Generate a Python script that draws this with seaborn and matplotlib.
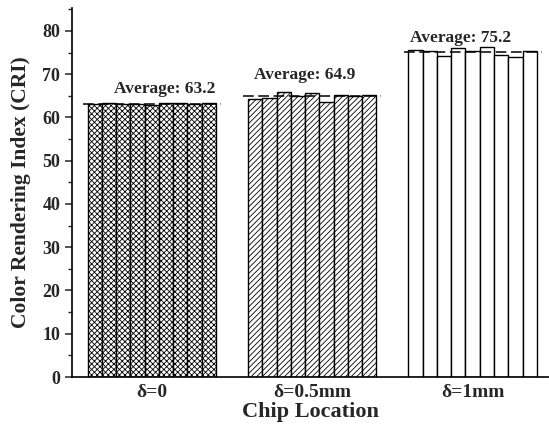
import matplotlib
matplotlib.use("Agg")
import matplotlib.pyplot as plt
import seaborn as sns
import pandas as pd
from matplotlib.ticker import MultipleLocator

# ---- data ----
locations = ["δ=0", "δ=0.5mm", "δ=1mm"]
chips = [1, 2, 3, 4, 5, 6, 7, 8, 9]
cri_d0 = [63.0, 63.3, 63.2, 63.0, 62.8, 63.4, 63.4, 63.1, 63.4]
cri_d05 = [64.2, 64.6, 65.9, 64.9, 65.6, 63.5, 65.3, 64.9, 65.2]
cri_d1 = [75.5, 75.3, 74.2, 76.1, 75.3, 76.4, 74.4, 74.0, 75.3]
averages = [63.2, 64.9, 75.2]
avg_labels = ["Average: 63.2", "Average: 64.9", "Average: 75.2"]
hatches = ["xxxxxx", "//////", ""]

rows = []
for loc, vals in zip(locations, [cri_d0, cri_d05, cri_d1]):
    for c, v in zip(chips, vals):
        rows.append({"Location": loc, "Chip": c, "CRI": v})
df = pd.DataFrame(rows)

sns.set_style("ticks")
plt.rcParams["font.family"] = ["Liberation Serif", "DejaVu Serif"]
plt.rcParams["font.weight"] = "bold"
plt.rcParams["hatch.linewidth"] = 0.6
plt.rcParams["hatch.color"] = "black"

fig = plt.figure(figsize=(5.49, 4.32), dpi=100)
ax = fig.add_axes([72 / 549, 55 / 432, 1 - 72 / 549, (377 - 8) / 432])

sns.barplot(data=df, x="Location", y="CRI", hue="Chip", order=locations,
            hue_order=chips, palette=["white"] * 9, edgecolor="black",
            linewidth=1.0, width=0.8, legend=False, errorbar=None, ax=ax)

for cont in ax.containers:
    for i, bar in enumerate(cont):
        bar.set_hatch(hatches[i])
        bar.set_facecolor("white")
        bar.set_edgecolor("black")

# average lines and labels
text_x = [0.083, 0.952, 1.927]
text_y = [66.6, 69.9, 78.3]
for i, (avg, lab) in enumerate(zip(averages, avg_labels)):
    ax.hlines(avg, i - 0.43, i + 0.43, colors="black", linewidth=1.1,
              linestyles=(0, (7, 3)), zorder=5)
    ax.text(text_x[i], text_y[i], lab, ha="center", va="center",
            fontsize=12.5, fontweight="bold")

ax.set_xlim(-0.497, 2.476)
ax.set_ylim(0, 85.3)
ax.yaxis.set_major_locator(MultipleLocator(10))
ax.yaxis.set_minor_locator(MultipleLocator(5))
ax.tick_params(axis="y", which="major", length=5, width=1.1, labelsize=13, direction="out")
ax.tick_params(axis="y", which="minor", length=3, width=1.0, direction="out")
ax.tick_params(axis="x", length=0, labelsize=14, pad=5)
for lab in ax.get_xticklabels() + ax.get_yticklabels():
    lab.set_fontweight("bold")

ax.set_xlabel("Chip Location", fontsize=16, fontweight="bold", labelpad=1)
ax.set_ylabel("Color Rendering Index (CRI)", fontsize=15.5, fontweight="bold", labelpad=8)

sns.despine(ax=ax)
for s in ["left", "bottom"]:
    ax.spines[s].set_linewidth(1.2)
    ax.spines[s].set_color("black")

fig.savefig("out.png", dpi=100)
